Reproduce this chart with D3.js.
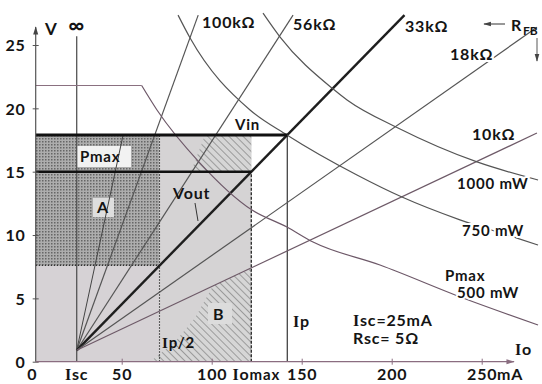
<!DOCTYPE html>
<html>
<head>
<meta charset="utf-8">
<script src="https://cdn.jsdelivr.net/npm/d3@7"></script>
<style>
  html, body { margin: 0; padding: 0; background: #fff; }
  svg { display: block; }
  text { font-family: Lato, "Open Sans", sans-serif; font-weight: 700; fill: #141414; letter-spacing: 0.8px; }
  .serif { font-family: "Liberation Serif", "DejaVu Serif", serif; font-weight: 700; }
</style>
</head>
<body>
<svg id="chart" width="542" height="384"></svg>
<script>
// ---- axis ticks ----
const yTicks = [0, 5, 10, 15, 20, 25];
const xTicks = [0, 50, 100, 150, 200, 250];
const xTickLabels = ["0", "50", "100", "150", "200", "250"];

// ---- operating points (mA, V) ----
const Isc = 25, Ip = 142, IoMax = 122, IpHalf = 71;
const Vin = 17.9, Vout = 15, VinMax = 21.8, VoutHalf = 7.6;
const VinMaxEndI = 61.1;          // where the flat Vin(max) limit meets the Pmax curve
const infinityTopV = 25.7;

// ---- R_FB load rays, all starting near (Isc, 0.9 V) ----
const rayOrigin = [25, 0.9];
const rfbNames = ["100kΩ", "56kΩ", "33kΩ", "18kΩ", "10kΩ"];
const rfbEndI  = [92.5, 145.2, 207.1, 280.7, 280.7];
const rfbEndV  = [27.36, 27.36, 27.36, 26.4, 18.05];
const innerRayEnd = [50.8, 17.9];  // unlabelled ray inside area A

// ---- dissipation curves ----
const p1000I = [128.5, 138, 166.8, 175.2, 203.5, 247.4, 281.3];
const p1000V = [27.52, 25.63, 21.6, 20.66, 18.45, 15.77, 14.34];
const p750I  = [81.3, 88, 121.3, 141.8, 180.7, 205.7, 237.9, 269.6, 281.3];
const p750V  = [27.36, 25.55, 19.87, 17.9, 14.74, 13.0, 11.2, 9.76, 9.21];
const p500I  = [61.1, 69.6, 93.5, 122.4, 141.8, 156.3, 193.5, 239.6, 281.3];
const p500V  = [21.8, 19.87, 15.68, 11.97, 10.63, 9.45, 7.63, 5.03, 2.9];

// ---- hatched sub-areas (mA, V) ----
const hatchTopI = [96.3, IoMax, IoMax, 88.5];
const hatchTopV = [Vin, Vin, Vout, Vout];
const hatchBI = [122, 100.7, 90.7, 79.6, 65.7, 122];
const hatchBV = [7.37, 5.97, 3.45, 1.56, 0, 0];

const svg = d3.select("#chart");
const x = d3.scaleLinear().domain([0, 250]).range([31.7, 481.7]);
const y = d3.scaleLinear().domain([0, 25]).range([361.7, 45]);
const axisX = x(0) + 4;
const pts = (I, V) => I.map((d, i) => [x(d), y(V[i])]);

// ---- patterns ----
const defs = svg.append("defs");
const stip = defs.append("pattern").attr("id", "stip").attr("width", 3).attr("height", 3)
  .attr("patternUnits", "userSpaceOnUse");
stip.append("rect").attr("width", 3).attr("height", 3).attr("fill", "#adadad");
stip.append("rect").attr("width", 1.5).attr("height", 1.5).attr("fill", "#666");

const hatch = defs.append("pattern").attr("id", "hatch").attr("width", 5).attr("height", 5)
  .attr("patternUnits", "userSpaceOnUse").attr("patternTransform", "rotate(-45)");
hatch.append("rect").attr("width", 5).attr("height", 5).attr("fill", "#d6d6d6");
hatch.append("line").attr("x1", 0).attr("y1", 0).attr("x2", 0).attr("y2", 5)
  .attr("stroke", "#6a6a6a").attr("stroke-width", 1.1);

function arrow(id, color) {
  defs.append("marker").attr("id", id).attr("viewBox", "0 0 10 10")
    .attr("refX", 9).attr("refY", 5).attr("markerWidth", 7).attr("markerHeight", 7)
    .attr("orient", "auto-start-reverse")
    .append("path").attr("d", "M0,2 L10,5 L0,8 Z").attr("fill", color);
}
arrow("arrDark", "#444");
arrow("arrMauve", "#8a6d80");

// ---- shaded areas ----
const areas = svg.append("g");
areas.append("rect").attr("x", axisX).attr("y", y(VoutHalf))
  .attr("width", x(IpHalf) - axisX).attr("height", y(0) - y(VoutHalf)).attr("fill", "#d6d2d5");
areas.append("rect").attr("x", axisX).attr("y", y(Vin))
  .attr("width", x(IpHalf) - axisX).attr("height", y(VoutHalf) - y(Vin)).attr("fill", "url(#stip)");
areas.append("rect").attr("x", x(IpHalf)).attr("y", y(Vin))
  .attr("width", x(IoMax) - x(IpHalf)).attr("height", y(0) - y(Vin)).attr("fill", "#d5d3d4");
const poly = d3.line();
areas.append("path").attr("d", poly(pts(hatchTopI, hatchTopV)) + "Z").attr("fill", "url(#hatch)");
areas.append("path").attr("d", poly(pts(hatchBI, hatchBV)) + "Z").attr("fill", "url(#hatch)");
// light patches behind the area captions
areas.append("rect").attr("x", 77).attr("y", 146).attr("width", 54).attr("height", 21).attr("fill", "#f2f2f2");
areas.append("rect").attr("x", 93).attr("y", 198).attr("width", 21).attr("height", 19).attr("fill", "#dedede");
areas.append("rect").attr("x", 208).attr("y", 303).attr("width", 24).attr("height", 21).attr("fill", "#dcdcdc");

// ---- boundary lines ----
const g = svg.append("g").attr("fill", "none");
g.append("line").attr("x1", x(IpHalf)).attr("x2", x(IpHalf)).attr("y1", y(0)).attr("y2", y(Vin))
  .attr("stroke", "#333").attr("stroke-width", 1.1).attr("stroke-dasharray", "1.5,1.5");
g.append("line").attr("x1", axisX).attr("x2", x(IpHalf)).attr("y1", y(VoutHalf)).attr("y2", y(VoutHalf))
  .attr("stroke", "#333").attr("stroke-width", 1.1).attr("stroke-dasharray", "1.5,1.5");
g.append("line").attr("x1", x(IoMax)).attr("x2", x(IoMax)).attr("y1", y(0)).attr("y2", y(Vout))
  .attr("stroke", "#333").attr("stroke-width", 1.4).attr("stroke-dasharray", "3,1.5");

// infinite R_FB: vertical at Isc
g.append("line").attr("x1", x(Isc)).attr("x2", x(Isc)).attr("y1", y(0)).attr("y2", y(infinityTopV))
  .attr("stroke", "#555").attr("stroke-width", 1.3);
// Vin(max) flat part
g.append("line").attr("x1", axisX).attr("x2", x(VinMaxEndI)).attr("y1", y(VinMax)).attr("y2", y(VinMax))
  .attr("stroke", "#8a7080").attr("stroke-width", 1.1);
// Ip
g.append("line").attr("x1", x(Ip)).attr("x2", x(Ip)).attr("y1", y(0)).attr("y2", y(Vin))
  .attr("stroke", "#444").attr("stroke-width", 1.3);

// rays
g.append("line").attr("x1", x(rayOrigin[0])).attr("y1", y(rayOrigin[1]))
  .attr("x2", x(innerRayEnd[0])).attr("y2", y(innerRayEnd[1])).attr("stroke", "#444").attr("stroke-width", 1);
rfbNames.forEach((n, i) => {
  g.append("line").attr("x1", x(rayOrigin[0])).attr("y1", y(rayOrigin[1]))
    .attr("x2", x(rfbEndI[i])).attr("y2", y(rfbEndV[i]))
    .attr("stroke", i === 2 ? "#1e1e1e" : (i === 4 ? "#6e5a68" : "#555"))
    .attr("stroke-width", i === 2 ? 2.4 : 1.2);
});

// dissipation curves
const curve = d3.line().curve(d3.curveMonotoneX);
g.append("path").attr("d", curve(pts(p1000I, p1000V))).attr("stroke", "#555").attr("stroke-width", 1.2);
g.append("path").attr("d", curve(pts(p750I, p750V))).attr("stroke", "#555").attr("stroke-width", 1.2);
g.append("path").attr("d", curve(pts(p500I, p500V))).attr("stroke", "#6d5868").attr("stroke-width", 1.2);

// Vin and Vout
g.append("line").attr("x1", axisX).attr("x2", x(Ip)).attr("y1", y(Vin)).attr("y2", y(Vin))
  .attr("stroke", "#111").attr("stroke-width", 3);
g.append("line").attr("x1", axisX).attr("x2", x(IoMax)).attr("y1", y(Vout)).attr("y2", y(Vout))
  .attr("stroke", "#111").attr("stroke-width", 2.6);

// ---- axes ----
const yAxis = svg.append("g").attr("transform", `translate(${axisX},0)`)
  .call(d3.axisLeft(y).tickValues(yTicks).tickSize(4).tickPadding(6));
yAxis.select(".domain").remove();
yAxis.selectAll(".tick line").attr("x1", -3).attr("x2", 3).attr("stroke", "#555");
yAxis.selectAll(".tick text").attr("font-size", 16).attr("font-family", "Lato, sans-serif")
  .attr("font-weight", 700).attr("fill", "#141414").attr("dy", "0.36em");
svg.append("line").attr("x1", axisX).attr("x2", axisX).attr("y1", y(0)).attr("y2", 27)
  .attr("stroke", "#555").attr("stroke-width", 1.2).attr("marker-end", "url(#arrDark)");

const xAxis = svg.append("g").attr("transform", `translate(0,${y(0)})`)
  .call(d3.axisBottom(x).tickValues(xTicks).tickSize(4).tickPadding(6)
    .tickFormat((d, i) => xTickLabels[i]));
xAxis.select(".domain").remove();
xAxis.selectAll(".tick line").attr("y1", -3).attr("y2", 3).attr("stroke", "#8a6d80");
xAxis.selectAll(".tick").filter(d => d === 0).select("line").remove();
xAxis.selectAll(".tick text").attr("font-size", 16).attr("font-family", "Lato, sans-serif")
  .attr("font-weight", 700).attr("fill", "#141414").attr("y", 7).attr("dy", "0.72em");
svg.append("line").attr("x1", axisX).attr("x2", 514).attr("y1", y(0)).attr("y2", y(0))
  .attr("stroke", "#8a6d80").attr("stroke-width", 1.2).attr("marker-end", "url(#arrMauve)");

// ---- captions ----
function label(tx, ty, parts, size, anchor) {
  const t = svg.append("text").attr("x", tx).attr("y", ty).attr("font-size", size || 15)
    .attr("text-anchor", anchor || "start");
  parts.forEach(p => {
    const s = t.append("tspan").text(p.t);
    if (p.serif) s.attr("class", "serif");
    if (p.size) s.attr("font-size", p.size);
    if (p.dy) s.attr("dy", p.dy);
  });
  return t;
}
function halo(t) { t.attr("stroke", "#fff").attr("stroke-width", 4).attr("paint-order", "stroke"); return t; }

label(45, 35, [{t: "V"}], 17);
label(x(Isc), 33, [{t: "∞"}], 22, "middle");
label(x(Isc), 380, [{t: "I", serif: true}, {t: "sc"}], 16, "middle");
label(x(IoMax) + 5, 380, [{t: "I", serif: true}, {t: "o"}, {t: "max", size: 15}], 16, "middle");
label(497, 380, [{t: "mA"}], 16);
label(515, 355, [{t: "I", serif: true}, {t: "o"}], 16);

const rfbLabelPos = [[202, 28], [293, 30], [405, 32], [450, 60], [472, 140]];
rfbNames.forEach((n, i) => halo(label(rfbLabelPos[i][0], rfbLabelPos[i][1], [{t: n}], 16)));

// R_FB legend with its two direction arrows
label(511, 31, [{t: "R"}], 16).style("letter-spacing", "0px");
label(523, 35, [{t: "FB"}], 12).style("letter-spacing", "0px");
svg.append("line").attr("x1", 505).attr("x2", 484).attr("y1", 24).attr("y2", 24)
  .attr("stroke", "#444").attr("stroke-width", 1.1).attr("marker-end", "url(#arrDark)");
svg.append("line").attr("x1", 537).attr("x2", 537).attr("y1", 38).attr("y2", 61)
  .attr("stroke", "#666").attr("stroke-width", 1.1).attr("marker-end", "url(#arrDark)");

halo(label(457, 189, [{t: "1000 mW"}], 15));
halo(label(462, 236, [{t: "750 mW"}], 15));
halo(label(445, 281, [{t: "Pmax"}], 15));
halo(label(457, 298, [{t: "500 mW"}], 15));

label(353, 326, [{t: "I", serif: true}, {t: "sc=25mA"}], 16);
label(353, 344, [{t: "Rsc= 5Ω"}], 16);
label(293, 327, [{t: "I", serif: true}, {t: "p"}], 16);
label(162, 348, [{t: "I", serif: true}, {t: "p/2"}], 15);
label(213, 320, [{t: "B"}], 16);
label(97, 213, [{t: "A"}], 16);
label(173, 199, [{t: "Vout"}], 16);
svg.append("line").attr("x1", 195).attr("y1", 203).attr("x2", 198).attr("y2", 221)
  .attr("stroke", "#333").attr("stroke-width", 1);
label(235, 130, [{t: "Vin"}], 15);
label(80, 162, [{t: "Pmax"}], 15);
</script>
</body>
</html>
